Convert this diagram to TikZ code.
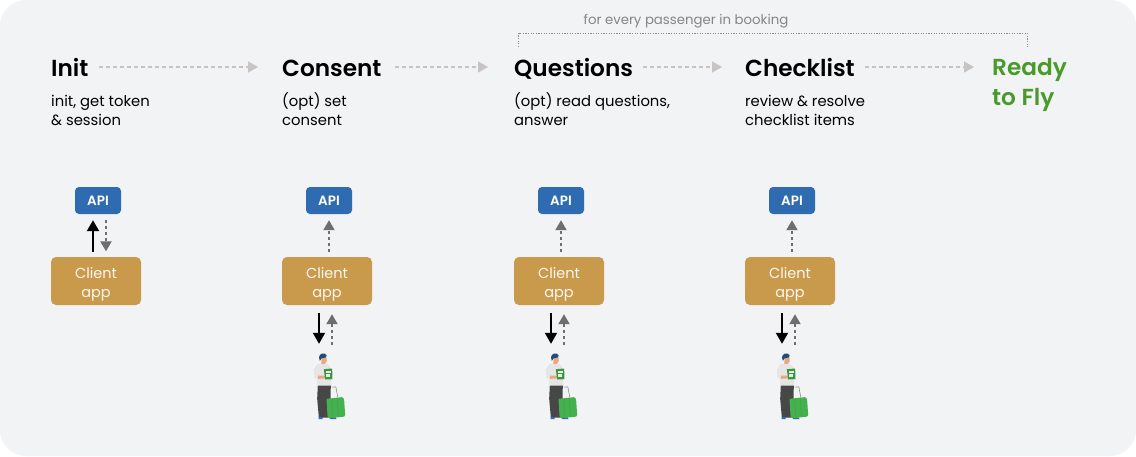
\documentclass[tikz,border=0pt]{standalone}
\usepackage{fontspec}
\setmainfont{Poppins}[BoldFont={* SemiBold}]
\usepackage[dvipsnames]{xcolor}
\usetikzlibrary{positioning,arrows.meta,calc}
\definecolor{panelgrey}{HTML}{F1F3F5}
\definecolor{apiblue}{HTML}{2F6BB0}
\definecolor{clienttan}{HTML}{C99A4B}
\definecolor{readygreen}{HTML}{4A9A2B}
\definecolor{flowgrey}{HTML}{C8C4C4}
\definecolor{backgrey}{HTML}{6F6D6D}
\definecolor{bagreen}{HTML}{45B04E}
\definecolor{skintone}{HTML}{E8A878}
\tikzset{
  pics/passenger/.style={code={
    \begin{scope}[x=0.3333pt,y=-0.3333pt,shift={(-80,-120)}]
      \fill[black!72] (54,118) -- (93,118) -- (92,165) -- (86,216) -- (57,216) -- (52,160) -- cycle;
      \fill[apiblue] (57,214) -- (68,214) -- (68,221) -- (56,221) -- cycle;
      \fill[apiblue] (90,214) -- (108,216) -- (110,221) -- (90,221) -- cycle;
      \draw[black!45,line width=0.6pt] (96,125) -- (108,124) -- (114,156);
      \fill[bagreen] (80,160) -- (126,155) .. controls (131,155) and (132,160) .. (133,165) -- (136,208) .. controls (136,213) and (132,214) .. (128,214) -- (90,218) .. controls (85,218) and (83,214) .. (83,210) -- cycle;
      \draw[bagreen!92!black,line width=0.4pt] (96,160) -- (98,216) (112,158) -- (116,214);
      \fill[black!10] (42,72) -- (52,56) -- (80,53) -- (92,66) -- (94,120) -- (53,120) -- (52,100) -- (44,96) -- cycle;
      \fill[skintone] (66,36) -- (80,36) -- (80,48) -- (74,56) -- (64,54) -- cycle;
      \fill[skintone] (54,90) -- (86,90) -- (86,98) -- (54,100) -- cycle;
      \fill[apiblue!70!black] (60,46) .. controls (52,30) and (64,22) .. (74,24) .. controls (82,26) and (82,32) .. (78,36) -- (66,38) -- cycle;
      \fill[bagreen!85!black] (72,71) -- (97,69) -- (98,101) -- (76,102) -- cycle;
      \fill[white!85!bagreen] (78,76) rectangle (92,81);
      \fill[white!85!bagreen] (79,85) rectangle (91,93);
    \end{scope}
  }}
}
\begin{document}
\begin{tikzpicture}[x=1pt,y=-1pt,
    title node/.style={inner sep=0pt,anchor=west,text height=20pt,text depth=2pt,font=\fontsize{23.2}{28}\selectfont\bfseries},
    info node/.style={inner sep=0pt,anchor=north west,align=left,text height=30pt,font=\fontsize{14.8}{19}\selectfont},
    api node/.style={fill=apiblue,text=white,rounded corners=4pt,minimum width=46pt,minimum height=27pt,inner sep=0pt,font=\fontsize{13.5}{16}\selectfont\bfseries},
    client node/.style={fill=clienttan,text=white!92!clienttan,rounded corners=5pt,minimum width=90pt,minimum height=48pt,inner sep=0pt,align=center,text height=32pt,text depth=0pt,font=\fontsize{14.5}{19}\selectfont},
    flow/.style={draw=flowgrey,line width=1.5pt,dash pattern=on 4pt off 3pt,-{Triangle[length=10pt,width=11pt,fill=flowgrey]},shorten <=10pt},
    call/.style={draw=black,line width=2pt,-{Triangle[length=11pt,width=12pt]}},
    back/.style={draw=backgrey,line width=2pt,dash pattern=on 3pt off 3pt,-{Triangle[length=10pt,width=11pt,fill=backgrey]}},
  ]
  \useasboundingbox (0,0) rectangle (1136,456);
  \fill[panelgrey,rounded corners=26pt] (0,0) rectangle (1136,456);

  \node[title node] (init) at (51,67) {Init};
  \node[title node] (consent) at (282,67) {Consent};
  \node[title node] (questions) at (514,67) {Questions};
  \node[title node] (checklist) at (745,67) {Checklist};
  \node[inner sep=0pt,anchor=north west,align=left,text=readygreen,text height=50pt,font=\fontsize{23.2}{30}\selectfont\bfseries] (ready) at (992,55) {Ready\\to Fly};

  \node[info node] (initinfo) at (51,95) {init, get token\\\& session};
  \node[info node] (consentinfo) at (282,95) {(opt) set\\consent};
  \node[info node] (questionsinfo) at (514,95) {(opt) read questions,\\answer};
  \node[info node] (checklistinfo) at (745,95) {review \& resolve\\checklist items};

  % step arrows
  \path
    (init) edge[flow,shorten >=24pt] (consent)
    (consent) edge[flow,shorten <=13pt,shorten >=26pt] (questions)
    (questions) edge[flow,shorten >=23pt] (checklist)
    (checklist) edge[flow,shorten >=18pt] (checklist -| ready.west)
    ;

  % bracket over the repeated steps
  \coordinate (bracketa) at (518.5,47);
  \coordinate (bracketb) at (1027,47);
  \node[text=black!48,inner sep=0pt,font=\fontsize{13.3}{16}\selectfont] (every) at (686,21) {for every passenger in booking};
  \draw[black!45,line width=1pt,dash pattern=on 1.2pt off 1.4pt] (bracketa) -- ++(0,-14) -| (bracketb);

  % init has no passenger
  \node[api node] (api1) at (98,200.5) {API};
  \node[client node] (client1) at (96,281) {Client\\app};
  \draw[call] ([xshift=-3pt,yshift=5pt]client1.north) -- ([xshift=-5pt,yshift=-6pt]api1.south);
  \draw[back] ([xshift=8pt,yshift=-6pt]api1.south) -- ([xshift=10pt,yshift=5.5pt]client1.north);

  \foreach \i/\x in {2/327,3/559,4/790}{
    \node[api node] (api\i) at (\x+2,200.5) {API};
    \node[client node] (client\i) at (\x,281) {Client\\app};
    \node[inner sep=0pt,minimum width=30pt,minimum height=67pt] (pax\i) at (\x-0.5,385.5) {};
    \pic at (pax\i.center) {passenger};
    \draw[back] ([xshift=2pt,yshift=5pt]client\i.north) -- ([yshift=-6pt]api\i.south);
    \draw[call] ([xshift=-8pt,yshift=-8pt]client\i.south) -- ([xshift=-7.5pt,yshift=8pt]pax\i.north);
    \draw[back] ([xshift=5.5pt,yshift=7pt]pax\i.north) -- ([xshift=5pt,yshift=-9pt]client\i.south);
  }
\end{tikzpicture}
\end{document}
